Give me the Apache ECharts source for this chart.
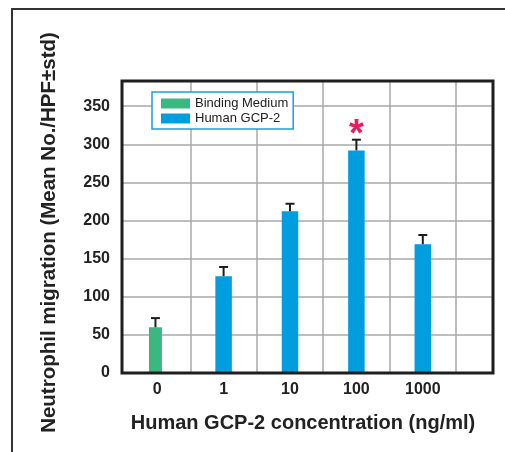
<!DOCTYPE html>
<html><head><meta charset="utf-8">
<script src="https://cdn.jsdelivr.net/npm/echarts@6/dist/echarts.min.js"></script>
<style>html,body{margin:0;padding:0;background:#fff}#c{width:505px;height:452px}</style>
</head><body><div id="c"></div>
<script>
// ---- data ----
const categories = ['0', '1', '10', '100', '1000'];
const bindingMedium = [60, '-', '-', '-', '-'];
const humanGCP2 = ['-', 127, 212, 292, 169];
const stdDev = [12, 12, 10, 14, 12];
const significance = ['', '', '', '*', ''];
const yTicks = [0, 50, 100, 150, 200, 250, 300, 350];

// ---- style ----
const FONT = '"Liberation Sans", Arial, Helvetica, sans-serif';
const GREEN = '#3bb77f', BLUE = '#009edf', STAR = '#ee1a5c';
const GREEN_W = 13, BLUE_W = 16.5;
const Y_MAX = 383;
const GRIDLINE = {show: true, lineStyle: {color: '#a8a8a8', width: 1.5}};

const errData = categories.map((c, i) => {
  const isGreen = bindingMedium[i] !== '-';
  const v = isGreen ? bindingMedium[i] : humanGCP2[i];
  return [i, v, stdDev[i], isGreen ? 1 : 0];
});

const chart = echarts.init(document.getElementById('c'), null, {renderer: 'canvas'});
chart.setOption({
  animation: false,
  backgroundColor: '#fff',
  textStyle: {fontFamily: FONT},
  graphic: [{
    type: 'polyline', silent: true,
    shape: {points: [[12, 452], [12, 9], [505, 9]]},
    style: {stroke: '#333', lineWidth: 2, fill: null}
  }],
  legend: {
    data: ['Binding Medium', 'Human GCP-2'],
    orient: 'vertical', left: 152, top: 92,
    itemWidth: 29, itemHeight: 10, itemGap: 2, icon: 'rect',
    padding: [5, 5, 4, 9],
    borderColor: '#19a0dc', borderWidth: 1.5, backgroundColor: '#fff',
    textStyle: {fontFamily: FONT, fontSize: 13, color: '#222'}
  },
  grid: [
    {left: 122, top: 81, width: 371, height: 292, show: true, z: 10,
     borderColor: '#1e1e1e', borderWidth: 3, backgroundColor: 'transparent'},
    {left: 124, top: 81, width: 332, height: 292}
  ],
  xAxis: [
    {gridIndex: 0, type: 'value', min: 0, max: 1,
     axisLine: {show: false}, axisTick: {show: false}, axisLabel: {show: false}, splitLine: {show: false},
     name: 'Human GCP-2 concentration (ng/ml)', nameLocation: 'middle', nameGap: 40,
     nameTextStyle: {fontFamily: FONT, fontSize: 20, fontWeight: 'bold', color: '#222', padding: [0, 9, 0, 0]}},
    {gridIndex: 1, type: 'category', data: categories,
     axisLine: {show: false}, axisTick: {show: false},
     axisLabel: {fontFamily: FONT, fontSize: 16, fontWeight: 'bold', color: '#222', margin: 9},
     splitLine: Object.assign({showMinLine: false}, GRIDLINE)}
  ],
  yAxis: [
    {gridIndex: 0, type: 'value', min: 0, max: Y_MAX, interval: 50,
     axisLine: {show: false}, axisTick: {show: false},
     axisLabel: {fontFamily: FONT, fontSize: 16, fontWeight: 'bold', color: '#222', margin: 12,
       formatter: v => yTicks.includes(v) ? String(v) : ''},
     splitLine: Object.assign({showMinLine: false, showMaxLine: false}, GRIDLINE),
     name: 'Neutrophil migration (Mean No./HPF±std)', nameLocation: 'middle', nameGap: 62,
     nameTextStyle: {fontFamily: FONT, fontSize: 20.5, fontWeight: 'bold', color: '#222', padding: [0, 11, 0, 0]}},
    {gridIndex: 1, type: 'value', min: 0, max: Y_MAX, show: false}
  ],
  series: [
    {name: 'Binding Medium', type: 'bar', xAxisIndex: 1, yAxisIndex: 1,
     data: bindingMedium, barWidth: GREEN_W, barGap: '-100%', itemStyle: {color: GREEN}},
    {name: 'Human GCP-2', type: 'bar', xAxisIndex: 1, yAxisIndex: 1,
     data: humanGCP2, barWidth: BLUE_W, barGap: '-100%', itemStyle: {color: BLUE}},
    {name: 'std', type: 'custom', xAxisIndex: 1, yAxisIndex: 1, z: 5, data: errData,
     renderItem: function (params, api) {
       const i = api.value(0), v = api.value(1), e = api.value(2), g = api.value(3);
       const base = api.coord([i, v]);
       const top = api.coord([i, v + e]);
       const x = base[0] + (g ? -(BLUE_W - GREEN_W) / 2 : 0);
       const ls = {stroke: '#1e1e1e', lineWidth: 2};
       const children = [
         {type: 'line', shape: {x1: x, y1: base[1], x2: x, y2: top[1]}, style: ls},
         {type: 'line', shape: {x1: x - 4.5, y1: top[1], x2: x + 4.5, y2: top[1]}, style: ls}
       ];
       const s = significance[params.dataIndex];
       if (s) {
         children.push({type: 'text', x: x, y: top[1] - 4,
           style: {text: s, fill: STAR, fontFamily: FONT, fontSize: 38, fontWeight: 'bold',
                   align: 'center', verticalAlign: 'middle'}});
       }
       return {type: 'group', children: children};
     }}
  ]
});
</script></body></html>
